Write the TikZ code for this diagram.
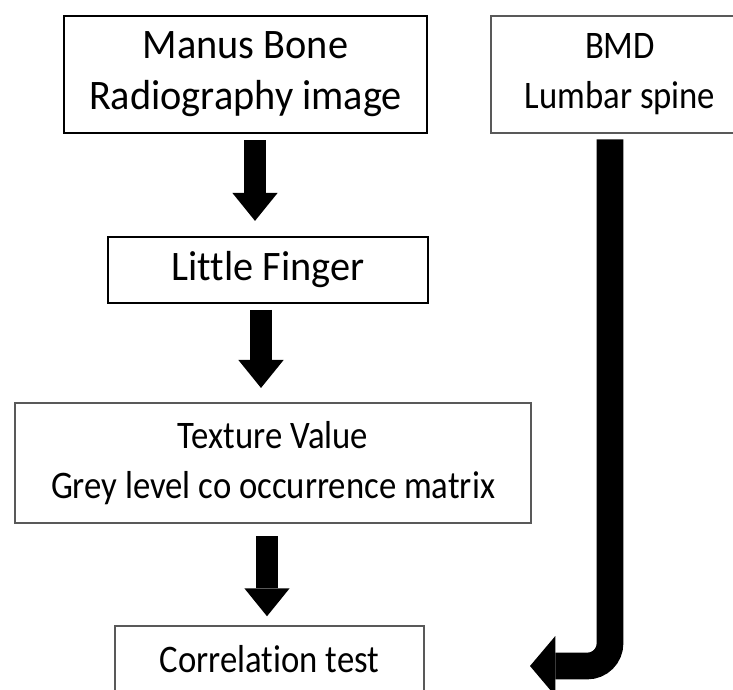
\documentclass[tikz,border=0pt]{standalone}
\usepackage{fontspec}
\setmainfont[Ligatures=NoCommon]{Carlito}
\newfontfamily\boldboxfont[FakeStretch=0.96,Ligatures=NoCommon]{Carlito}
\newfontfamily\plainboxfont[FakeStretch=0.89,Ligatures=NoCommon]{Carlito}
\usetikzlibrary{arrows.meta}
\tikzset{every picture/.style={line width=0.75pt}}

\begin{document}
\begin{tikzpicture}[x=0.75pt,y=0.75pt,yscale=-1,xscale=1,
	boldbox/.style={draw=black,line width=2.2pt,inner sep=0pt,align=center,font=\boldboxfont\fontsize{31.5}{38.25}\selectfont},
	plainbox/.style={draw=black!65,line width=1.6pt,inner sep=0pt,align=center,font=\plainboxfont\fontsize{29.25}{37.5}\selectfont},
	flowarrow/.style={line width=16pt,-{Triangle[length=21pt,width=34pt,line width=0pt]}},
	bmdarrow/.style={line width=20pt,rounded corners=17pt,-{Triangle[length=19pt,width=45pt,line width=0pt]}}]
	\useasboundingbox (0,0) rectangle (733,690);

	%Shape: Rectangle [manus]
	\node [boldbox,minimum width=272.25pt,minimum height=87.75pt] (manus) at (245.5,74.5) {Manus Bone\\Radiography image};
	%Shape: Rectangle [bmd]
	\node [plainbox,minimum width=193.5pt,minimum height=87.75pt] (bmd) at (620,74.5) {BMD\\Lumbar spine};
	%Shape: Rectangle [finger]
	\node [boldbox,minimum width=240pt,minimum height=49.5pt] (finger) at (268,270) {Little Finger};
	%Shape: Rectangle [texture]
	\node [plainbox,minimum width=387pt,minimum height=90pt] (texture) at (273,463) {Texture Value\\Grey level co occurrence matrix};
	%Shape: Rectangle [corr]
	\node [plainbox,minimum width=231.75pt,minimum height=49.5pt] (corr) at (269.5,659) {Correlation test};
	%free end of the BMD arrow
	\coordinate (bmdtip) at (530,666);

	%Arrows
	\draw [flowarrow,shorten <=4.5pt,shorten >=11pt] (manus.south -| 255,0) -- (finger.north -| 255,0);
	\draw [flowarrow,shorten <=4pt,shorten >=10.5pt] (finger.south -| 261,0) -- (texture.north -| 261,0);
	\draw [flowarrow,shorten <=9pt,shorten >=6.5pt] (texture.south -| 267,0) -- (corr.north -| 267,0);
	\draw [bmdarrow,shorten <=4pt] (bmd.south -| 610,0) |- (bmdtip);
\end{tikzpicture}
\end{document}
